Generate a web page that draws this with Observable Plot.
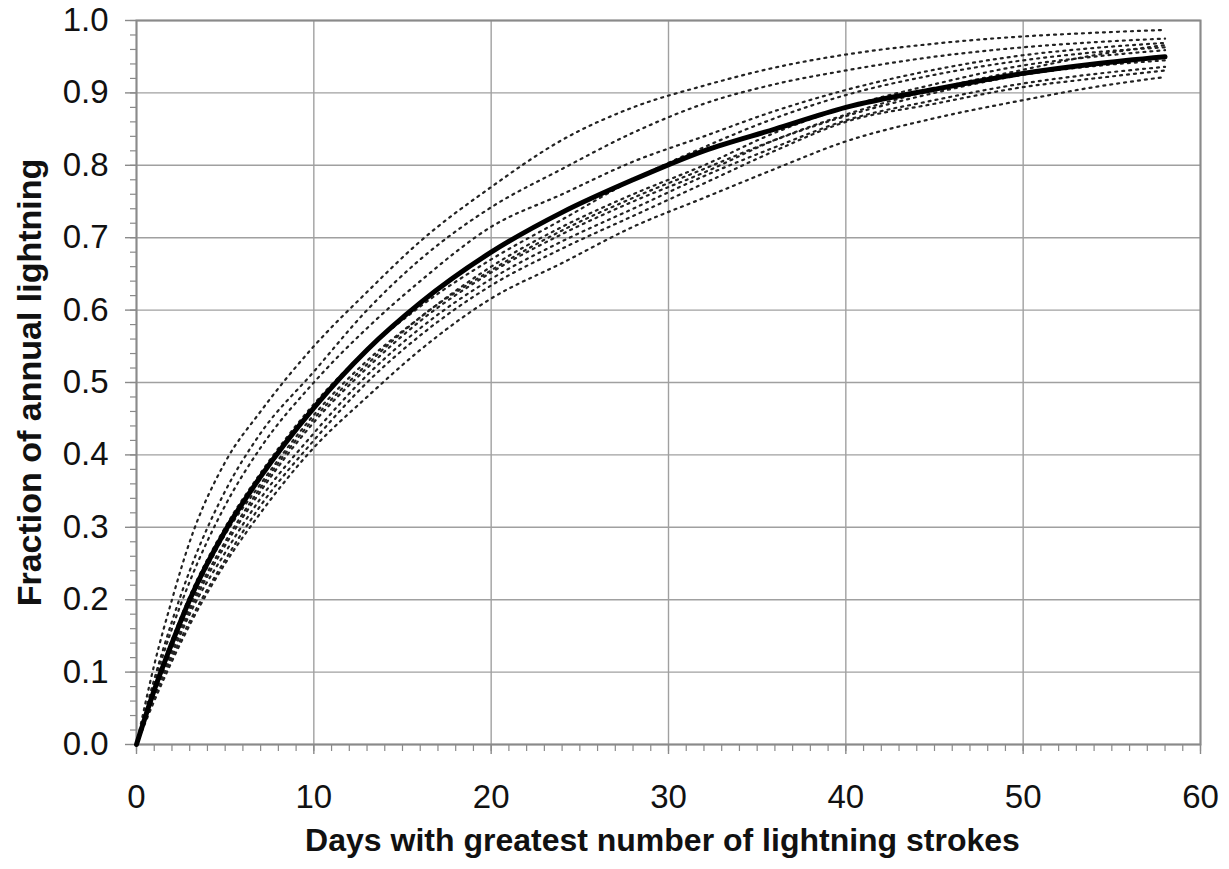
<!DOCTYPE html>
<html>
<head>
<meta charset="utf-8">
<script src="https://cdn.jsdelivr.net/npm/d3@7"></script>
<script src="https://cdn.jsdelivr.net/npm/@observablehq/plot@0.6"></script>
<style>
  html, body { margin: 0; padding: 0; background: #fff; }
  #chart svg { display: block; }
</style>
</head>
<body>
<div id="chart"></div>
<script>
// Days (x values at which curves were read)
const days = [0, 1, 2, 3, 5, 7, 10, 13, 16, 20, 24, 28, 32, 36, 40, 45, 50, 54, 58];

// Mean curve (thick solid)
const meanCurve = [0, 0.075, 0.14, 0.20, 0.295, 0.37, 0.465, 0.545, 0.61, 0.68, 0.735, 0.78, 0.82, 0.85, 0.88, 0.905, 0.927, 0.94, 0.95];

// Individual curves (dotted)
const curve1  = [0, 0.11, 0.20, 0.28, 0.39, 0.46, 0.55, 0.625, 0.695, 0.77, 0.835, 0.88, 0.91, 0.935, 0.953, 0.968, 0.978, 0.983, 0.987];
const curve2  = [0, 0.09, 0.17, 0.24, 0.35, 0.43, 0.515, 0.60, 0.67, 0.742, 0.795, 0.845, 0.885, 0.912, 0.931, 0.95, 0.963, 0.97, 0.975];
const curve3  = [0, 0.085, 0.16, 0.225, 0.33, 0.41, 0.50, 0.575, 0.64, 0.715, 0.76, 0.805, 0.84, 0.875, 0.904, 0.932, 0.952, 0.962, 0.969];
const curve4  = [0, 0.08, 0.145, 0.205, 0.30, 0.375, 0.47, 0.545, 0.605, 0.67, 0.725, 0.78, 0.825, 0.865, 0.897, 0.925, 0.945, 0.956, 0.963];
const curve5  = [0, 0.075, 0.14, 0.195, 0.29, 0.36, 0.455, 0.53, 0.59, 0.66, 0.715, 0.76, 0.80, 0.845, 0.88, 0.912, 0.938, 0.95, 0.959];
const curve6  = [0, 0.07, 0.13, 0.185, 0.275, 0.35, 0.445, 0.52, 0.585, 0.652, 0.705, 0.75, 0.79, 0.835, 0.87, 0.905, 0.932, 0.952, 0.966];
const curve7  = [0, 0.07, 0.125, 0.18, 0.265, 0.34, 0.43, 0.51, 0.575, 0.643, 0.695, 0.74, 0.785, 0.825, 0.862, 0.89, 0.913, 0.926, 0.936];
const curve8  = [0, 0.065, 0.12, 0.17, 0.255, 0.33, 0.42, 0.50, 0.565, 0.634, 0.685, 0.73, 0.775, 0.82, 0.86, 0.885, 0.908, 0.92, 0.931];
const curve9  = [0, 0.06, 0.115, 0.165, 0.25, 0.32, 0.41, 0.48, 0.545, 0.616, 0.665, 0.715, 0.755, 0.795, 0.833, 0.865, 0.89, 0.908, 0.922];
const curve10 = [0, 0.075, 0.135, 0.19, 0.28, 0.355, 0.45, 0.525, 0.59, 0.655, 0.71, 0.755, 0.795, 0.835, 0.868, 0.90, 0.925, 0.937, 0.945];

// Tick values and labels
const xTicks = [0, 10, 20, 30, 40, 50, 60];
const xMinorTicks = d3.range(0, 61, 1);
const yTicks = [0, 0.1, 0.2, 0.3, 0.4, 0.5, 0.6, 0.7, 0.8, 0.9, 1.0];
const yMinorTicks = d3.range(0, 51, 1).map(i => i / 50);
const xLabel = "Days with greatest number of lightning strokes";
const yLabel = "Fraction of annual lightning";

const dotted = [curve1, curve2, curve3, curve4, curve5, curve6, curve7, curve8, curve9, curve10];
const dottedRows = dotted.flatMap((vals, k) => vals.map((v, i) => ({series: "c" + k, day: days[i], frac: v})));
const meanRows = meanCurve.map((v, i) => ({day: days[i], frac: v}));

const FONT = "'Liberation Sans', Arial, Helvetica, sans-serif";
const AX = "#8a8a8a";

const chart = Plot.plot({
  width: 1229,
  height: 869,
  marginLeft: 136,
  marginRight: 29,
  marginTop: 20,
  marginBottom: 125,
  style: {fontFamily: FONT, color: "#111", background: "#fff"},
  x: {domain: [0, 60]},
  y: {domain: [0, 1]},
  marks: [
    Plot.gridX(xTicks, {stroke: "#a0a0a0", strokeOpacity: 1, strokeWidth: 1.4}),
    Plot.gridY(yTicks, {stroke: "#a0a0a0", strokeOpacity: 1, strokeWidth: 1.4}),
    Plot.axisX(xMinorTicks, {tickSize: 7, tickFormat: () => "", label: null, stroke: AX, strokeWidth: 1.2}),
    Plot.axisY(yMinorTicks, {tickSize: 6, tickFormat: () => "", label: null, stroke: AX, strokeWidth: 1.2}),
    Plot.axisX(xTicks, {tickSize: 10, tickPadding: 30, fontSize: 33, label: null, stroke: AX, strokeWidth: 1.4, tickFormat: d => String(d)}),
    Plot.axisY(yTicks, {tickSize: 11, tickPadding: 17, fontSize: 33, label: null, stroke: AX, strokeWidth: 1.4, tickFormat: d => d.toFixed(1)}),
    Plot.frame({stroke: AX, strokeWidth: 2}),
    Plot.line(dottedRows, {x: "day", y: "frac", z: "series", stroke: "#222", strokeWidth: 2.2, strokeDasharray: "2,5", curve: "monotone-x"}),
    Plot.line(meanRows, {x: "day", y: "frac", stroke: "#000", strokeWidth: 5, curve: "monotone-x"}),
    Plot.text([xLabel], {frameAnchor: "bottom", dx: -6, dy: 96, fontSize: 32, fontWeight: "bold", fill: "#111", textAnchor: "middle", lineAnchor: "middle"}),
    Plot.text([yLabel], {frameAnchor: "left", dx: -106, rotate: -90, fontSize: 34, fontWeight: "bold", fill: "#111", textAnchor: "middle", lineAnchor: "middle"})
  ]
});
document.getElementById("chart").appendChild(chart);
</script>
</body>
</html>
